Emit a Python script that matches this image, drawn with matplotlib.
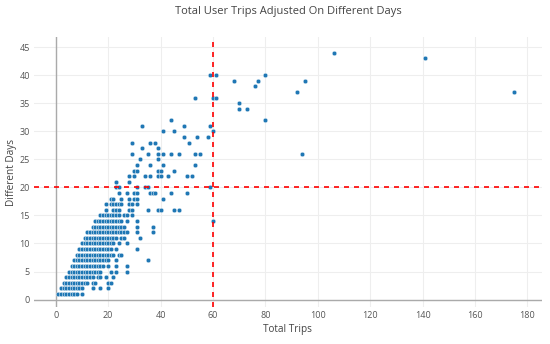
import matplotlib.pyplot as plt

# total trips (x) for each user, grouped by the number of different days (y)
trips_by_days = {
    1: [1, 2, 3, 4, 5, 6, 7, 8, 10],
    2: [2, 3, 4, 5, 6, 7, 8, 9, 10, 14, 17, 20],
    3: [3, 4, 5, 6, 7, 8, 9, 10, 11, 12, 14, 15, 20, 21],
    4: [4, 5, 6, 7, 8, 9, 10, 11, 12, 13, 14, 16, 17, 19, 22],
    5: [5, 6, 7, 8, 9, 10, 11, 12, 13, 14, 15, 16, 17, 21, 23, 27],
    6: [6, 7, 8, 9, 10, 11, 12, 13, 14, 15, 16, 17, 18, 20, 23, 27],
    7: [7, 8, 9, 10, 11, 12, 13, 14, 15, 16, 17, 18, 19, 20, 23, 35],
    8: [8, 9, 10, 11, 12, 13, 14, 15, 16, 17, 18, 19, 20, 21, 22, 24, 25],
    9: [9, 10, 11, 12, 13, 14, 15, 16, 17, 18, 19, 20, 21, 23, 31],
    10: [10, 11, 12, 13, 14, 15, 16, 17, 18, 19, 20, 21, 22, 24, 27],
    11: [11, 12, 13, 14, 15, 16, 17, 18, 19, 20, 21, 22, 23, 25, 26, 32],
    12: [12, 13, 14, 15, 16, 17, 18, 19, 20, 21, 22, 23, 24, 25, 26, 27, 31, 37],
    13: [14, 15, 16, 17, 18, 19, 20, 21, 22, 23, 24, 25, 26, 31, 37],
    14: [15, 16, 17, 18, 19, 20, 21, 22, 23, 24, 25, 27, 31, 60],
    15: [17, 18, 19, 20, 21, 22, 23, 24, 26, 27, 29],
    16: [19, 22, 23, 24, 28, 29, 35, 39, 40, 45, 47],
    17: [19, 21, 22, 23, 24, 25, 28, 29, 31],
    18: [21, 22, 25, 28, 30, 31, 41],
    19: [24, 27, 30, 31, 36, 37, 38, 44, 50],
    20: [23, 24, 31, 34, 35, 59],
    21: [23, 28],
    22: [28, 30, 34, 36, 39, 40, 43, 50, 52],
    23: [30, 31, 39, 40, 45],
    24: [31, 36, 41, 53],
    25: [32, 39],
    26: [29, 35, 39, 41, 44, 47, 53, 55, 94],
    27: [33, 39],
    28: [29, 36, 38, 51],
    29: [49, 54, 58],
    30: [41, 45, 60],
    31: [33, 49, 59],
    32: [44, 80],
    34: [70, 73],
    35: [70],
    36: [53, 60, 61],
    37: [92, 175],
    38: [76],
    39: [68, 77, 95],
    40: [59, 61, 80],
    43: [141],
    44: [106],
}

days = []
trips = []
for d, xs in trips_by_days.items():
    for t in xs:
        days.append(d)
        trips.append(t)

trip_cut = 60
day_cut = 20

plt.rcParams["font.family"] = ["Open Sans", "DejaVu Sans"]

fig = plt.figure(figsize=(5.5, 3.44), dpi=100)
ax = fig.add_axes([0.062, 0.108, 0.923, 0.784])

ax.scatter(trips, days, s=11, color="#1f77b4", edgecolors="white", linewidths=0.3, zorder=3)

ax.axvline(trip_cut, color="red", linestyle=(0, (3, 3)), linewidth=1.2, zorder=4)
ax.axhline(day_cut, color="red", linestyle=(0, (3, 3)), linewidth=1.2, zorder=4)

ax.axvline(0, color="#aaaaaa", linewidth=1, zorder=2)
ax.axhline(0, color="#aaaaaa", linewidth=1, zorder=2)

ax.set_xlim(-8.3, 185.5)
ax.set_ylim(-1.3, 46.8)
ax.set_xticks(range(0, 181, 20))
ax.set_yticks(range(0, 46, 5))
ax.grid(True, color="#eeeeee", linewidth=0.8, zorder=0)
for s in ax.spines.values():
    s.set_visible(False)
ax.tick_params(length=0, labelsize=6.5, labelcolor="#555555", pad=3)

ax.set_title("Total User Trips Adjusted On Different Days", fontsize=8, color="#444444", pad=17)
ax.set_xlabel("Total Trips", fontsize=7.2, color="#444444", labelpad=3)
ax.set_ylabel("Different Days", fontsize=7.2, color="#444444")
ax.yaxis.set_label_coords(-0.034, 0.5)

fig.savefig("out.png", dpi=100)
